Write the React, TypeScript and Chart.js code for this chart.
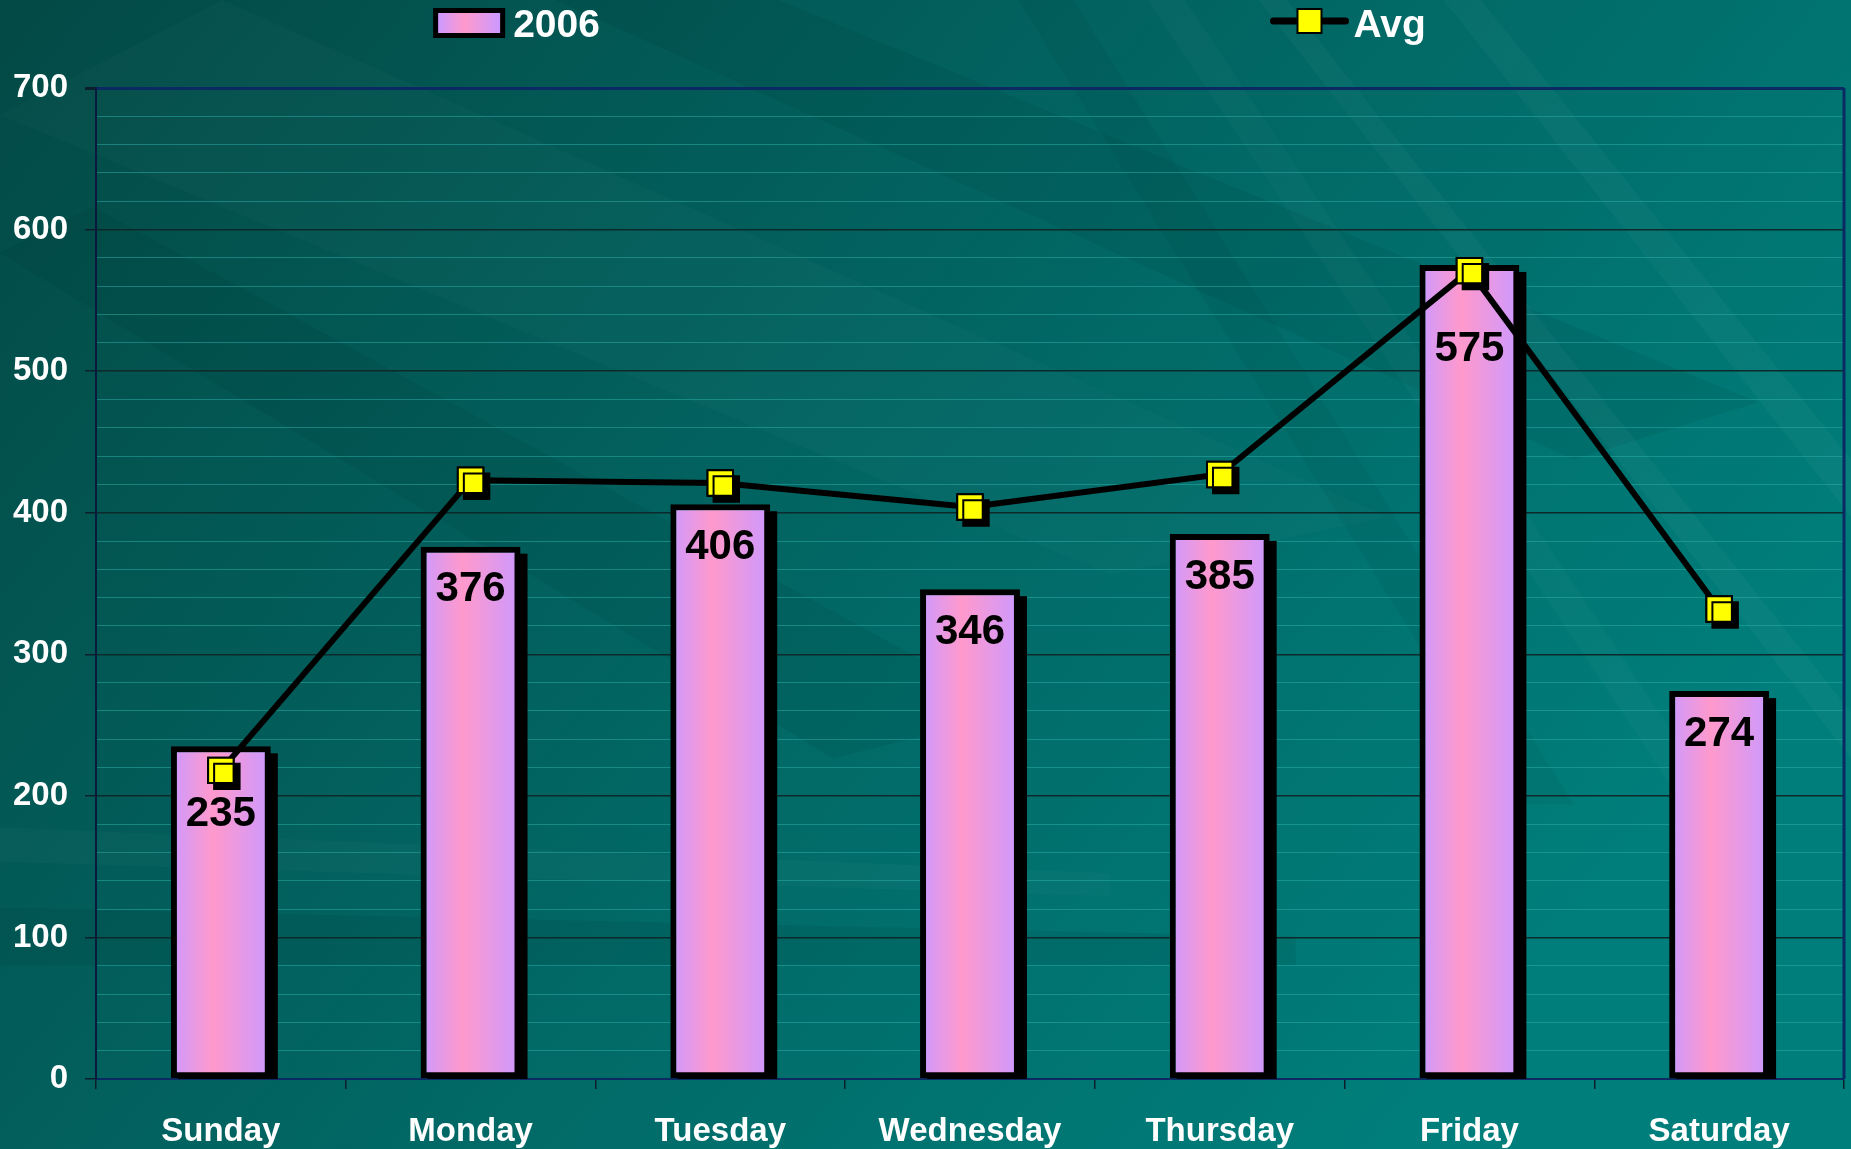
import React, { useEffect, useRef } from "react";
import { Chart, registerables } from "chart.js";

Chart.register(...registerables);

// ---------- data ----------
const categories = ["Sunday", "Monday", "Tuesday", "Wednesday", "Thursday", "Friday", "Saturday"];
const sales2006 = [235, 376, 406, 346, 385, 575, 274];
const avgValues = [218, 423, 421, 404, 427, 571, 332];
const seriesNames = ["2006", "Avg"];
const yMin = 0;
const yMax = 700;
const yMajorStep = 100;
const yMinorStep = 20;

// ---------- styles ----------
const FONT = '"Liberation Sans", Arial, Helvetica, sans-serif';
const BAR_PCT = 0.4;
const labelDrop = [68, 43, 43, 43, 43, 84, 43]; // px below bar top for each value label
const NAVY = "#0b2a63";
const MAJOR_GRID = "#0c2a2b";
const MINOR_GRID = "rgba(45,175,170,0.5)";

function barGradient(ctx: CanvasRenderingContext2D, left: number, right: number) {
  const g = ctx.createLinearGradient(left, 0, right, 0);
  g.addColorStop(0, "#cc99ff");
  g.addColorStop(0.42, "#ff99cc");
  g.addColorStop(1, "#cc99ff");
  return g;
}

const backgroundPlugin = {
  id: "tealBackground",
  beforeDraw(chart: any) {
    const { ctx, width: W, height: H } = chart;
    ctx.save();
    const g = ctx.createLinearGradient(0, 0, W * 0.75, H);
    g.addColorStop(0, "#034945");
    g.addColorStop(0.45, "#02615e");
    g.addColorStop(1, "#007e7b");
    ctx.fillStyle = g;
    ctx.fillRect(0, 0, W, H);

    const poly = (pts: number[][], color: string) => {
      ctx.beginPath();
      ctx.moveTo(pts[0][0] * W, pts[0][1] * H);
      for (let i = 1; i < pts.length; i++) ctx.lineTo(pts[i][0] * W, pts[i][1] * H);
      ctx.closePath();
      ctx.fillStyle = color;
      ctx.fill();
    };
    poly([[0, 0.1], [0.12, 0.0], [0.75, 0.45], [0.6, 0.5]], "rgba(255,255,255,0.02)");
    poly([[0, 0.22], [0.05, 0.18], [0.55, 0.62], [0.45, 0.66]], "rgba(0,30,30,0.07)");
    poly([[0.3, 0.0], [0.42, 0.0], [0.95, 0.35], [0.85, 0.4]], "rgba(0,25,25,0.07)");
    poly([[0.62, 0.0], [0.64, 0.0], [0.95, 0.75], [0.93, 0.75]], "rgba(255,255,255,0.025)");
    poly([[0.68, 0.0], [0.695, 0.0], [1.0, 0.62], [1.0, 0.66]], "rgba(255,255,255,0.03)");
    poly([[0.78, 0.0], [0.8, 0.0], [1.0, 0.4], [1.0, 0.45]], "rgba(255,255,255,0.03)");
    poly([[0.55, 0.0], [0.58, 0.0], [0.85, 0.7], [0.82, 0.7]], "rgba(0,20,20,0.05)");
    poly([[0, 0.72], [0.6, 0.76], [0.6, 0.78], [0, 0.75]], "rgba(255,255,255,0.025)");
    poly([[0, 0.79], [0.7, 0.815], [0.7, 0.84], [0, 0.84]], "rgba(0,20,20,0.08)");
    ctx.restore();
  },
};

const framePlugin = {
  id: "plotFrame",
  beforeDatasetsDraw(chart: any) {
    const { ctx, chartArea: a } = chart;
    ctx.save();
    ctx.strokeStyle = NAVY;
    ctx.lineWidth = 3;
    ctx.beginPath();
    ctx.moveTo(a.right, a.top);
    ctx.lineTo(a.right, a.bottom);
    ctx.stroke();
    ctx.restore();
  },
};

const shadowPlugin = {
  id: "dropShadows",
  beforeDatasetDraw(chart: any, args: any) {
    if (args.index !== 0) return;
    const { ctx, chartArea: a } = chart;
    const meta = chart.getDatasetMeta(0);
    ctx.save();
    ctx.beginPath();
    ctx.rect(0, 0, chart.width, a.bottom);
    ctx.clip();
    ctx.fillStyle = "#000";
    meta.data.forEach((el: any) => {
      const { x, y, base, width } = el.getProps(["x", "y", "base", "width"], true);
      ctx.fillRect(x - width / 2 + 7, Math.min(y, base) + 7, width, Math.abs(base - y));
    });
    ctx.restore();
  },
  afterDatasetDraw(chart: any, args: any) {
    if (args.index !== 1) return;
    const ctx = chart.ctx;
    const meta = chart.getDatasetMeta(1);
    ctx.save();
    ctx.shadowColor = "#000";
    ctx.shadowOffsetX = 6;
    ctx.shadowOffsetY = 6;
    ctx.shadowBlur = 0;
    meta.data.forEach((p: any) => p.draw(ctx, chart.chartArea));
    ctx.restore();
  },
};

const valueLabelPlugin = {
  id: "valueLabels",
  afterDatasetsDraw(chart: any) {
    const { ctx } = chart;
    const meta = chart.getDatasetMeta(0);
    const data = chart.data.datasets[0].data as number[];
    ctx.save();
    ctx.font = `bold 42px ${FONT}`;
    ctx.fillStyle = "#000";
    ctx.textAlign = "center";
    ctx.textBaseline = "middle";
    meta.data.forEach((el: any, i: number) => {
      ctx.fillText(String(data[i]), el.x, el.y + labelDrop[i]);
    });
    ctx.restore();
  },
};

const legendPlugin = {
  id: "topLegend",
  afterDraw(chart: any) {
    const { ctx, width: W } = chart;
    const ds = chart.data.datasets;
    const cy = 23;
    ctx.save();
    ctx.font = `bold 39px ${FONT}`;
    ctx.textBaseline = "middle";
    ctx.textAlign = "left";

    const bx = W * 0.234;
    const bw = 72;
    const bh = 30;
    ctx.fillStyle = "#000";
    ctx.fillRect(bx, cy - bh / 2, bw, bh);
    ctx.fillStyle = barGradient(ctx, bx + 5, bx + bw - 5);
    ctx.fillRect(bx + 5, cy - bh / 2 + 5, bw - 10, bh - 10);
    ctx.fillStyle = "#fff";
    ctx.fillText(ds[0].label, bx + bw + 8, cy + 3);

    const lx = W * 0.688;
    const lw = 72;
    ctx.strokeStyle = "#000";
    ctx.lineWidth = 7;
    ctx.lineCap = "round";
    ctx.beginPath();
    ctx.moveTo(lx, cy - 2);
    ctx.lineTo(lx + lw, cy - 2);
    ctx.stroke();
    const ms = 24;
    ctx.fillStyle = "#ffff00";
    ctx.fillRect(lx + lw / 2 - ms / 2, cy - 2 - ms / 2, ms, ms);
    ctx.lineWidth = 2;
    ctx.strokeRect(lx + lw / 2 - ms / 2, cy - 2 - ms / 2, ms, ms);
    ctx.fillStyle = "#fff";
    ctx.fillText(ds[1].label, lx + lw + 8, cy + 3);
    ctx.restore();
  },
};

export default function App() {
  const canvasRef = useRef<HTMLCanvasElement | null>(null);

  useEffect(() => {
    document.body.style.margin = "0";
    document.body.style.overflow = "hidden";
    const canvas = canvasRef.current;
    if (!canvas) return;

    const isMajor = (v: number) => v % yMajorStep === 0;

    const chart = new Chart(canvas, {
      type: "bar",
      data: {
        labels: categories,
        datasets: [
          {
            type: "bar",
            label: seriesNames[0],
            data: sales2006,
            order: 2,
            backgroundColor: (c: any) => {
              const ch = c.chart;
              const xs = ch.scales && ch.scales.x;
              if (!xs || c.dataIndex === undefined) return "#ff99cc";
              const cx = xs.getPixelForValue(c.dataIndex);
              const half = ((xs.width / categories.length) * BAR_PCT) / 2;
              if (!isFinite(cx) || !isFinite(half) || half <= 0) return "#ff99cc";
              return barGradient(ch.ctx, cx - half, cx + half);
            },
            borderColor: "#000",
            borderWidth: 6,
            borderSkipped: false,
            barPercentage: BAR_PCT,
            categoryPercentage: 1,
          },
          {
            type: "line",
            label: seriesNames[1],
            data: avgValues,
            order: 1,
            borderColor: "#000",
            borderWidth: 6,
            tension: 0,
            fill: false,
            pointStyle: "rect",
            pointRadius: 18,
            pointHoverRadius: 18,
            pointBackgroundColor: "#ffff00",
            pointBorderColor: "#000",
            pointBorderWidth: 2,
          },
        ],
      },
      options: {
        animation: false,
        responsive: true,
        maintainAspectRatio: false,
        events: [],
        layout: { autoPadding: false, padding: { top: 88, right: 7, bottom: 0, left: 0 } },
        plugins: {
          legend: { display: false },
          tooltip: { enabled: false },
          title: { display: false },
        },
        scales: {
          x: {
            offset: true,
            afterFit: (s: any) => {
              s.height = 70;
              s.paddingLeft = 0;
              s.paddingRight = 0;
            },
            grid: {
              display: true,
              offset: true,
              drawOnChartArea: false,
              tickLength: 10,
              color: "#0c1f2a",
              lineWidth: 1.5,
            },
            border: { color: NAVY, width: 2 },
            ticks: {
              color: "#ffffff",
              font: { family: FONT, size: 33, weight: "bold" },
              padding: 23,
              maxRotation: 0,
              autoSkip: false,
            },
          },
          y: {
            min: yMin,
            max: yMax,
            afterFit: (s: any) => {
              s.width = 96;
            },
            grid: {
              color: (c: any) => {
                const v = c.tick ? c.tick.value : 0;
                if (v === yMax || v === yMin) return NAVY;
                return isMajor(v) ? MAJOR_GRID : MINOR_GRID;
              },
              lineWidth: (c: any) => {
                const v = c.tick ? c.tick.value : 0;
                if (v === yMax) return 3;
                return isMajor(v) ? 1.5 : 1;
              },
              tickColor: (c: any) => {
                const v = c.tick ? c.tick.value : 0;
                return isMajor(v) ? "#0c1f2a" : "rgba(0,0,0,0)";
              },
              tickLength: 11,
            },
            border: { color: "#0a1a3c", width: 2 },
            ticks: {
              stepSize: yMinorStep,
              maxTicksLimit: 100,
              autoSkip: false,
              color: "#ffffff",
              font: { family: FONT, size: 33, weight: "bold" },
              padding: 17,
              callback: (v: any) => (isMajor(Number(v)) ? String(v) : ""),
            },
          },
        },
      } as any,
      plugins: [backgroundPlugin, framePlugin, shadowPlugin, valueLabelPlugin, legendPlugin],
    });

    return () => {
      chart.destroy();
    };
  }, []);

  return (
    <div style={{ position: "relative", width: "1851px", height: "1149px" }}>
      <canvas ref={canvasRef} />
    </div>
  );
}
